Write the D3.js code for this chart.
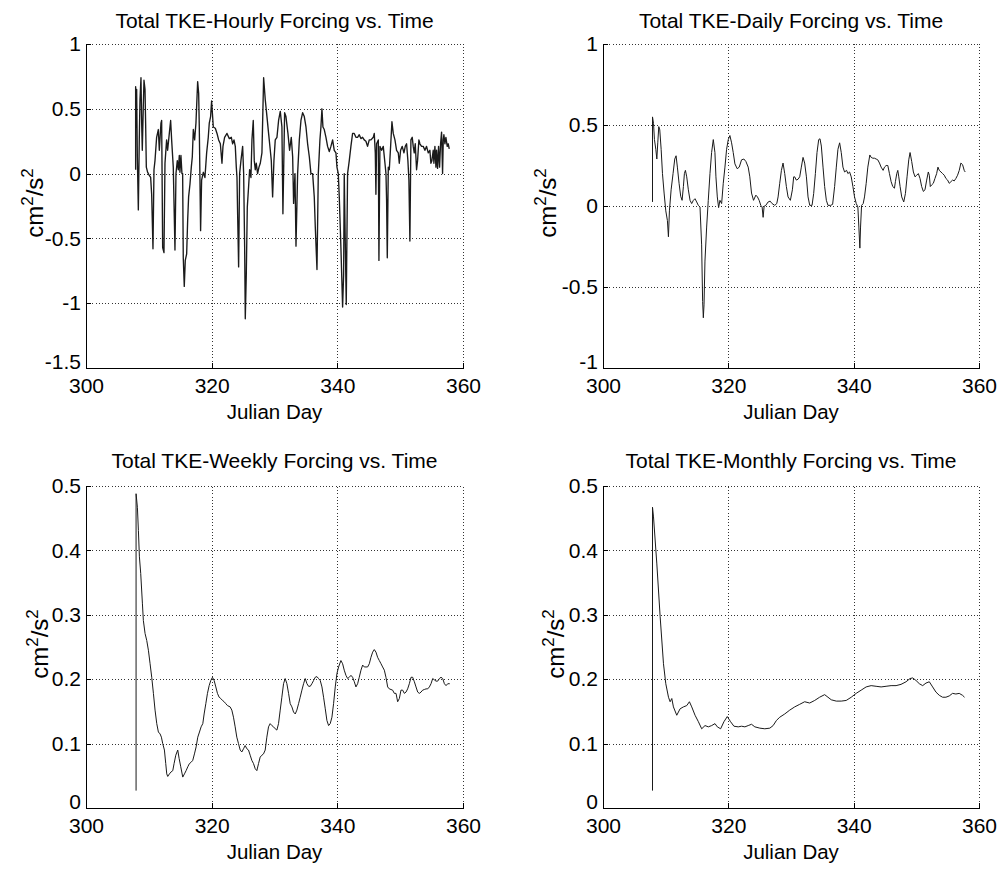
<!DOCTYPE html>
<html><head><meta charset="utf-8">
<script src="https://cdn.jsdelivr.net/npm/d3@7"></script>
<style>body{margin:0;background:#fff}svg{display:block}text{font-family:"Liberation Sans",Arial,sans-serif;fill:#000}</style>
</head><body>
<script>
const xTicks = [300, 320, 340, 360];
const hourlyTicks = [-1.5, -1, -0.5, 0, 0.5, 1];
const dailyTicks = [-1, -0.5, 0, 0.5, 1];
const lowerTicks = [0, 0.1, 0.2, 0.3, 0.4, 0.5];
const titles = ["Total TKE-Hourly Forcing vs. Time", "Total TKE-Daily Forcing vs. Time", "Total TKE-Weekly Forcing vs. Time", "Total TKE-Monthly Forcing vs. Time"];
const xLabel = "Julian Day";

const hourly = [[307.90,0.03],[307.90,0.67],[308.01,0.36],[308.06,0.65],[308.17,0.13],[308.33,-0.28],[308.48,0.26],[308.59,0.57],[308.75,0.74],[308.86,0.39],[308.96,0.18],[309.12,0.52],[309.23,0.72],[309.39,0.65],[309.49,0.39],[309.60,0.05],[309.81,0.01],[310.02,-0.01],[310.29,-0.03],[310.45,-0.16],[310.66,-0.58],[310.82,0.03],[310.98,0.10],[311.24,0.28],[311.51,0.34],[311.67,0.18],[311.93,0.39],[312.04,0.41],[312.20,-0.57],[312.41,-0.61],[312.57,0.08],[312.83,0.26],[312.99,0.18],[313.26,0.31],[313.47,0.41],[313.63,0.26],[313.89,0.05],[314.16,-0.59],[314.32,0.0],[314.53,0.10],[314.69,0.03],[314.85,0.14],[314.95,0.01],[315.11,0.14],[315.27,0.0],[315.38,0.0],[315.48,-0.65],[315.64,-0.87],[315.80,-0.67],[316.02,-0.62],[316.18,-0.36],[316.33,-0.18],[316.55,-0.08],[316.76,0.05],[316.92,0.13],[317.08,0.34],[317.29,0.26],[317.50,0.39],[317.77,0.71],[317.93,0.62],[318.03,0.36],[318.24,-0.44],[318.40,-0.05],[318.67,0.01],[318.93,-0.03],[319.20,0.16],[319.46,0.28],[319.62,0.39],[319.83,0.44],[319.99,0.56],[320.26,0.36],[320.58,0.35],[320.85,0.31],[321.11,0.26],[321.38,0.23],[321.64,0.08],[321.80,0.21],[322.06,0.28],[322.44,0.31],[322.81,0.27],[323.13,0.28],[323.34,0.23],[323.55,0.26],[323.76,0.21],[323.92,0.05],[324.03,-0.03],[324.13,-0.31],[324.29,-0.72],[324.45,0.0],[324.66,0.10],[324.93,0.21],[325.09,0.0],[325.25,-0.57],[325.35,-1.12],[325.51,-0.78],[325.67,-0.26],[325.88,-0.10],[326.04,0.03],[326.25,-0.03],[326.41,0.26],[326.62,0.41],[326.78,0.10],[326.94,0.03],[327.10,0.08],[327.31,0.0],[327.53,0.05],[327.74,0.08],[328.00,0.16],[328.27,0.74],[328.53,0.57],[328.80,0.44],[329.06,0.31],[329.33,0.18],[329.49,0.10],[329.70,-0.18],[329.91,0.10],[330.12,0.26],[330.39,0.28],[330.65,0.41],[330.92,0.48],[331.18,0.36],[331.34,-0.31],[331.61,0.47],[331.82,0.44],[332.14,0.31],[332.40,0.18],[332.67,0.28],[332.89,0.13],[333.04,-0.23],[333.26,0.0],[333.42,-0.56],[333.68,0.0],[333.95,0.26],[334.21,0.41],[334.48,0.47],[334.74,0.44],[335.01,0.36],[335.27,0.23],[335.54,0.13],[335.80,0.0],[336.07,0.0],[336.33,-0.18],[336.49,-0.41],[336.76,-0.74],[336.97,0.0],[337.23,0.26],[337.39,0.36],[337.55,0.50],[337.71,0.36],[337.92,0.34],[338.19,0.28],[338.45,0.21],[338.72,0.17],[338.98,0.21],[339.25,0.26],[339.51,0.18],[339.78,0.16],[339.94,0.05],[340.15,0.0],[340.31,-0.18],[340.57,-0.57],[340.84,-1.03],[341.00,-0.78],[341.10,0.0],[341.26,-0.52],[341.42,-1.01],[341.63,0.0],[341.90,0.10],[342.16,0.21],[342.43,0.31],[342.69,0.31],[342.96,0.28],[343.22,0.28],[343.49,0.30],[343.75,0.27],[344.02,0.28],[344.28,0.26],[344.55,0.25],[344.81,0.21],[345.08,0.26],[345.35,0.26],[345.72,0.28],[345.88,0.31],[346.04,0.16],[346.14,-0.16],[346.25,0.23],[346.52,0.26],[346.62,-0.67],[346.78,0.21],[347.05,0.18],[347.31,0.21],[347.58,0.08],[347.74,0.0],[347.84,-0.21],[347.95,-0.65],[348.11,0.05],[348.27,0.03],[348.48,0.21],[348.69,0.40],[348.90,0.31],[349.17,0.26],[349.43,0.18],[349.70,0.16],[349.86,0.08],[350.07,0.18],[350.33,0.21],[350.60,0.16],[350.81,0.21],[351.02,0.23],[351.23,0.10],[351.39,-0.05],[351.55,-0.52],[351.71,0.26],[351.92,0.28],[352.08,0.21],[352.24,0.16],[352.40,0.23],[352.61,0.03],[352.77,0.10],[352.98,0.26],[353.14,0.23],[353.41,0.21],[353.67,0.21],[353.94,0.18],[354.20,0.21],[354.47,0.16],[354.73,0.18],[354.89,0.08],[355.05,0.10],[355.26,0.18],[355.37,0.08],[355.53,0.21],[355.69,0.05],[355.79,0.18],[355.95,0.04],[356.11,0.21],[356.27,0.05],[356.43,0.23],[356.59,0.32],[356.75,0.0],[356.86,0.26],[356.96,0.30],[357.12,0.23],[357.28,0.28],[357.49,0.21],[357.65,0.23],[357.81,0.19]];

const daily = [[307.90,0.025],[307.90,0.55],[308.06,0.51],[308.21,0.41],[308.43,0.35],[308.59,0.29],[308.74,0.39],[308.90,0.49],[309.06,0.47],[309.28,0.35],[309.49,0.20],[309.75,0.08],[310.02,-0.03],[310.28,-0.09],[310.44,-0.19],[310.60,-0.03],[310.87,0.10],[311.18,0.20],[311.45,0.29],[311.66,0.31],[311.87,0.24],[312.14,0.14],[312.40,0.06],[312.62,0.035],[312.83,0.12],[312.99,0.20],[313.15,0.22],[313.36,0.18],[313.62,0.10],[313.89,0.035],[314.15,0.015],[314.42,0.035],[314.68,0.045],[314.95,0.025],[315.21,0.004],[315.48,-0.006],[315.74,-0.24],[315.90,-0.59],[316.01,-0.69],[316.12,-0.61],[316.27,-0.34],[316.54,-0.13],[316.80,0.035],[317.07,0.20],[317.33,0.33],[317.60,0.41],[317.86,0.33],[318.02,0.18],[318.24,0.056],[318.45,-0.01],[318.66,0.035],[318.93,0.015],[319.19,0.14],[319.46,0.24],[319.72,0.35],[319.99,0.41],[320.25,0.435],[320.52,0.39],[320.78,0.33],[321.05,0.26],[321.42,0.23],[321.74,0.24],[322.11,0.285],[322.48,0.29],[322.80,0.275],[323.17,0.24],[323.43,0.18],[323.70,0.08],[324.02,0.035],[324.39,0.067],[324.65,0.056],[324.92,0.035],[325.18,0.004],[325.39,-0.006],[325.55,-0.07],[325.71,-0.002],[325.98,0.004],[326.35,0.025],[326.67,0.03],[326.98,0.015],[327.41,0.004],[327.73,0.015],[327.94,0.056],[328.20,0.14],[328.47,0.22],[328.73,0.265],[329.00,0.20],[329.26,0.12],[329.53,0.056],[329.90,0.035],[330.22,0.10],[330.43,0.18],[330.59,0.18],[330.85,0.16],[331.12,0.165],[331.39,0.18],[331.65,0.24],[331.92,0.30],[332.18,0.265],[332.46,0.18],[332.72,0.056],[332.99,0.004],[333.36,0.004],[333.62,0.077],[333.89,0.20],[334.15,0.33],[334.42,0.41],[334.63,0.415],[334.84,0.37],[335.11,0.24],[335.37,0.12],[335.64,0.035],[335.90,0.004],[336.33,0.004],[336.64,0.01],[336.96,0.12],[337.23,0.24],[337.49,0.35],[337.76,0.39],[338.02,0.33],[338.29,0.24],[338.55,0.21],[338.87,0.22],[339.08,0.20],[339.35,0.21],[339.61,0.18],[339.88,0.12],[340.14,0.056],[340.41,0.015],[340.67,-0.006],[340.83,-0.13],[340.99,-0.26],[341.10,-0.13],[341.26,0.004],[341.52,0.015],[341.73,0.056],[342.00,0.14],[342.26,0.24],[342.58,0.315],[342.79,0.30],[343.06,0.295],[343.32,0.295],[343.59,0.29],[343.85,0.285],[344.12,0.265],[344.38,0.24],[344.70,0.22],[344.92,0.24],[345.18,0.25],[345.45,0.25],[345.71,0.20],[345.98,0.15],[346.24,0.12],[346.51,0.11],[346.66,0.15],[346.88,0.20],[347.04,0.22],[347.20,0.18],[347.41,0.12],[347.67,0.056],[347.99,0.025],[348.26,0.077],[348.52,0.18],[348.79,0.285],[349.00,0.33],[349.26,0.275],[349.53,0.21],[349.79,0.18],[350.06,0.19],[350.32,0.20],[350.59,0.17],[350.85,0.12],[351.12,0.09],[351.38,0.10],[351.65,0.16],[351.91,0.21],[352.07,0.19],[352.23,0.12],[352.44,0.13],[352.71,0.14],[352.97,0.17],[353.24,0.20],[353.45,0.24],[353.66,0.22],[353.93,0.21],[354.19,0.20],[354.46,0.19],[354.72,0.17],[354.99,0.16],[355.25,0.14],[355.52,0.15],[355.78,0.16],[356.05,0.155],[356.31,0.17],[356.58,0.19],[356.85,0.22],[357.11,0.265],[357.38,0.255],[357.64,0.22],[357.80,0.21]];

const weekly = [[307.97,0.027],[307.97,0.488],[308.18,0.467],[308.34,0.431],[308.50,0.390],[308.71,0.364],[308.98,0.317],[309.13,0.291],[309.40,0.271],[309.67,0.260],[309.93,0.245],[310.20,0.224],[310.46,0.203],[310.73,0.178],[310.99,0.152],[311.26,0.131],[311.52,0.118],[311.79,0.115],[312.00,0.110],[312.21,0.100],[312.48,0.090],[312.69,0.069],[312.85,0.053],[313.01,0.049],[313.28,0.053],[313.54,0.056],[313.81,0.058],[314.02,0.069],[314.29,0.082],[314.60,0.090],[314.82,0.077],[315.08,0.064],[315.40,0.048],[315.67,0.053],[315.93,0.058],[316.20,0.064],[316.46,0.069],[316.73,0.071],[316.99,0.074],[317.26,0.084],[317.53,0.095],[317.79,0.110],[318.06,0.118],[318.32,0.126],[318.59,0.131],[318.80,0.146],[319.07,0.162],[319.33,0.178],[319.60,0.190],[319.86,0.198],[320.13,0.203],[320.39,0.198],[320.66,0.188],[320.92,0.178],[321.19,0.172],[321.45,0.170],[321.72,0.167],[321.99,0.165],[322.25,0.162],[322.52,0.159],[322.94,0.157],[323.21,0.152],[323.47,0.141],[323.74,0.126],[324.00,0.110],[324.27,0.100],[324.54,0.090],[324.80,0.087],[325.07,0.092],[325.33,0.097],[325.60,0.092],[325.86,0.090],[326.13,0.082],[326.39,0.074],[326.66,0.069],[326.93,0.061],[327.19,0.058],[327.46,0.069],[327.72,0.079],[327.99,0.082],[328.25,0.084],[328.52,0.090],[328.78,0.110],[329.05,0.126],[329.31,0.131],[329.58,0.128],[329.85,0.126],[330.11,0.123],[330.38,0.121],[330.64,0.131],[330.91,0.152],[331.17,0.172],[331.44,0.193],[331.70,0.201],[331.97,0.193],[332.24,0.178],[332.50,0.162],[332.77,0.157],[333.03,0.149],[333.30,0.146],[333.56,0.152],[333.83,0.162],[334.09,0.172],[334.36,0.183],[334.63,0.193],[334.89,0.201],[335.16,0.193],[335.42,0.189],[335.69,0.189],[335.95,0.193],[336.22,0.198],[336.48,0.203],[336.75,0.204],[337.01,0.201],[337.28,0.198],[337.55,0.188],[337.81,0.172],[338.08,0.154],[338.34,0.136],[338.61,0.128],[338.87,0.131],[339.14,0.141],[339.40,0.162],[339.67,0.188],[339.94,0.209],[340.20,0.219],[340.57,0.229],[340.84,0.224],[341.10,0.214],[341.37,0.206],[341.64,0.201],[341.90,0.203],[342.17,0.206],[342.43,0.203],[342.70,0.196],[342.96,0.188],[343.23,0.193],[343.49,0.203],[343.76,0.214],[344.03,0.222],[344.29,0.219],[344.56,0.219],[344.82,0.219],[345.09,0.224],[345.35,0.234],[345.62,0.242],[345.88,0.246],[346.15,0.242],[346.41,0.234],[346.68,0.229],[346.95,0.224],[347.21,0.219],[347.48,0.214],[347.74,0.203],[348.01,0.188],[348.27,0.185],[348.54,0.184],[348.80,0.183],[349.07,0.178],[349.34,0.178],[349.60,0.165],[349.87,0.170],[350.13,0.183],[350.40,0.183],[350.66,0.178],[350.93,0.180],[351.19,0.185],[351.46,0.193],[351.73,0.203],[351.99,0.203],[352.26,0.196],[352.52,0.188],[352.79,0.180],[353.05,0.178],[353.32,0.180],[353.58,0.183],[353.85,0.184],[354.12,0.185],[354.38,0.185],[354.65,0.188],[354.91,0.193],[355.18,0.201],[355.44,0.199],[355.71,0.197],[355.97,0.197],[356.24,0.201],[356.50,0.203],[356.77,0.201],[357.04,0.193],[357.30,0.190],[357.57,0.193],[357.89,0.193]];

const monthly = [[307.90,0.027],[307.90,0.467],[308.06,0.452],[308.59,0.379],[309.12,0.297],[309.65,0.224],[310.02,0.193],[310.45,0.172],[310.71,0.165],[310.98,0.170],[311.24,0.157],[311.77,0.144],[312.30,0.154],[312.83,0.157],[313.36,0.159],[313.79,0.165],[314.16,0.157],[314.69,0.144],[315.22,0.134],[315.75,0.123],[316.28,0.128],[316.81,0.126],[317.34,0.128],[317.87,0.131],[318.24,0.126],[318.77,0.123],[319.30,0.134],[319.83,0.142],[320.36,0.134],[320.89,0.127],[321.58,0.126],[322.11,0.127],[322.64,0.126],[323.17,0.128],[323.70,0.130],[324.23,0.126],[325.03,0.124],[325.82,0.123],[326.62,0.124],[327.15,0.128],[327.68,0.136],[328.21,0.141],[329.00,0.146],[329.80,0.152],[330.59,0.157],[331.39,0.161],[332.18,0.165],[332.98,0.163],[333.78,0.167],[334.57,0.172],[335.37,0.176],[335.90,0.172],[336.43,0.168],[337.22,0.166],[338.02,0.166],[338.81,0.167],[339.61,0.172],[340.40,0.178],[341.20,0.183],[341.99,0.188],[342.79,0.190],[343.58,0.189],[344.38,0.188],[345.17,0.189],[345.97,0.190],[346.77,0.190],[347.56,0.192],[348.36,0.196],[348.99,0.201],[349.42,0.202],[349.95,0.198],[350.48,0.193],[351.01,0.190],[351.54,0.194],[352.07,0.196],[352.60,0.188],[353.13,0.180],[353.66,0.175],[354.19,0.172],[354.72,0.172],[355.25,0.174],[355.78,0.178],[356.31,0.177],[356.84,0.178],[357.37,0.175],[357.69,0.172]];

const W = 997, H = 869;
const svg = d3.select("body").append("svg").attr("width", W).attr("height", H);

const panels = [
  {title: titles[0], data: hourly, yTicks: hourlyTicks, x0: 86, x1: 463, y0: 44, y1: 368, lw: 1.35, tOff: 16, ylx: 43},
  {title: titles[1], data: daily, yTicks: dailyTicks, x0: 603, x1: 979, y0: 44, y1: 368, lw: 1, tOff: 16, ylx: 47},
  {title: titles[2], data: weekly, yTicks: lowerTicks, x0: 86, x1: 463, y0: 486, y1: 808, lw: 1, tOff: 18, ylx: 38},
  {title: titles[3], data: monthly, yTicks: lowerTicks, x0: 603, x1: 979, y0: 486, y1: 808, lw: 1, tOff: 18, ylx: 39}
];

const fmt = d => String(d);

panels.forEach(p => {
  const x = d3.scaleLinear().domain([xTicks[0], xTicks[xTicks.length - 1]]).range([p.x0, p.x1]);
  const y = d3.scaleLinear().domain([p.yTicks[0], p.yTicks[p.yTicks.length - 1]]).range([p.y1, p.y0]);
  const g = svg.append("g");

  // grid
  g.append("g").attr("transform", `translate(0,${p.y1})`)
    .call(d3.axisBottom(x).tickValues(xTicks).tickSize(-(p.y1 - p.y0)).tickFormat(""))
    .call(s => s.select(".domain").remove())
    .call(s => s.selectAll("line").attr("stroke", "#333").attr("stroke-dasharray", "1,2.2").attr("shape-rendering", "crispEdges"));
  g.append("g").attr("transform", `translate(${p.x0},0)`)
    .call(d3.axisLeft(y).tickValues(p.yTicks).tickSize(-(p.x1 - p.x0)).tickFormat(""))
    .call(s => s.select(".domain").remove())
    .call(s => s.selectAll("line").attr("stroke", "#333").attr("stroke-dasharray", "1,2.2").attr("shape-rendering", "crispEdges"));

  // line
  g.append("path").datum(p.data)
    .attr("fill", "none").attr("stroke", "#1a1a1a").attr("stroke-width", p.lw)
    .attr("stroke-linejoin", "round")
    .attr("d", d3.line().x(d => x(d[0])).y(d => y(d[1])));

  // axes
  const xa = g.append("g").attr("transform", `translate(0,${p.y1})`)
    .call(d3.axisBottom(x).tickValues(xTicks).tickSizeInner(-5).tickSizeOuter(0).tickPadding(10).tickFormat(fmt));
  const ya = g.append("g").attr("transform", `translate(${p.x0},0)`)
    .call(d3.axisLeft(y).tickValues(p.yTicks).tickSizeInner(-5).tickSizeOuter(0).tickPadding(5).tickFormat(fmt));
  [xa, ya].forEach(a => {
    a.select(".domain").attr("stroke", "#000").attr("stroke-width", 1.2).attr("shape-rendering", "crispEdges");
    a.selectAll(".tick line").attr("stroke", "#000").attr("shape-rendering", "crispEdges");
    a.selectAll("text").attr("font-size", 21).attr("font-family", '"Liberation Sans", Arial, sans-serif').attr("fill", "#000");
  });
  // lowest y tick label sits a little higher, as in the reference
  ya.selectAll(".tick").filter(d => d === p.yTicks[0]).select("text").attr("y", -6);

  // title
  g.append("text").attr("x", (p.x0 + p.x1) / 2).attr("y", p.y0 - p.tOff)
    .attr("text-anchor", "middle").attr("font-size", 21).text(p.title);
  // x label
  g.append("text").attr("x", (p.x0 + p.x1) / 2).attr("y", p.y1 + 51)
    .attr("text-anchor", "middle").attr("font-size", 20.5).text(xLabel);
  // y label
  const yl = g.append("text")
    .attr("transform", `translate(${p.x0 - p.ylx},${(p.y0 + p.y1) / 2 - 3}) rotate(-90)`)
    .attr("text-anchor", "middle").attr("font-size", 24);
  yl.append("tspan").text("cm");
  yl.append("tspan").attr("font-size", 17).attr("dy", -10).text("2");
  yl.append("tspan").attr("dy", 10).text("/s");
  yl.append("tspan").attr("font-size", 17).attr("dy", -10).text("2");
});
</script>
</body></html>
